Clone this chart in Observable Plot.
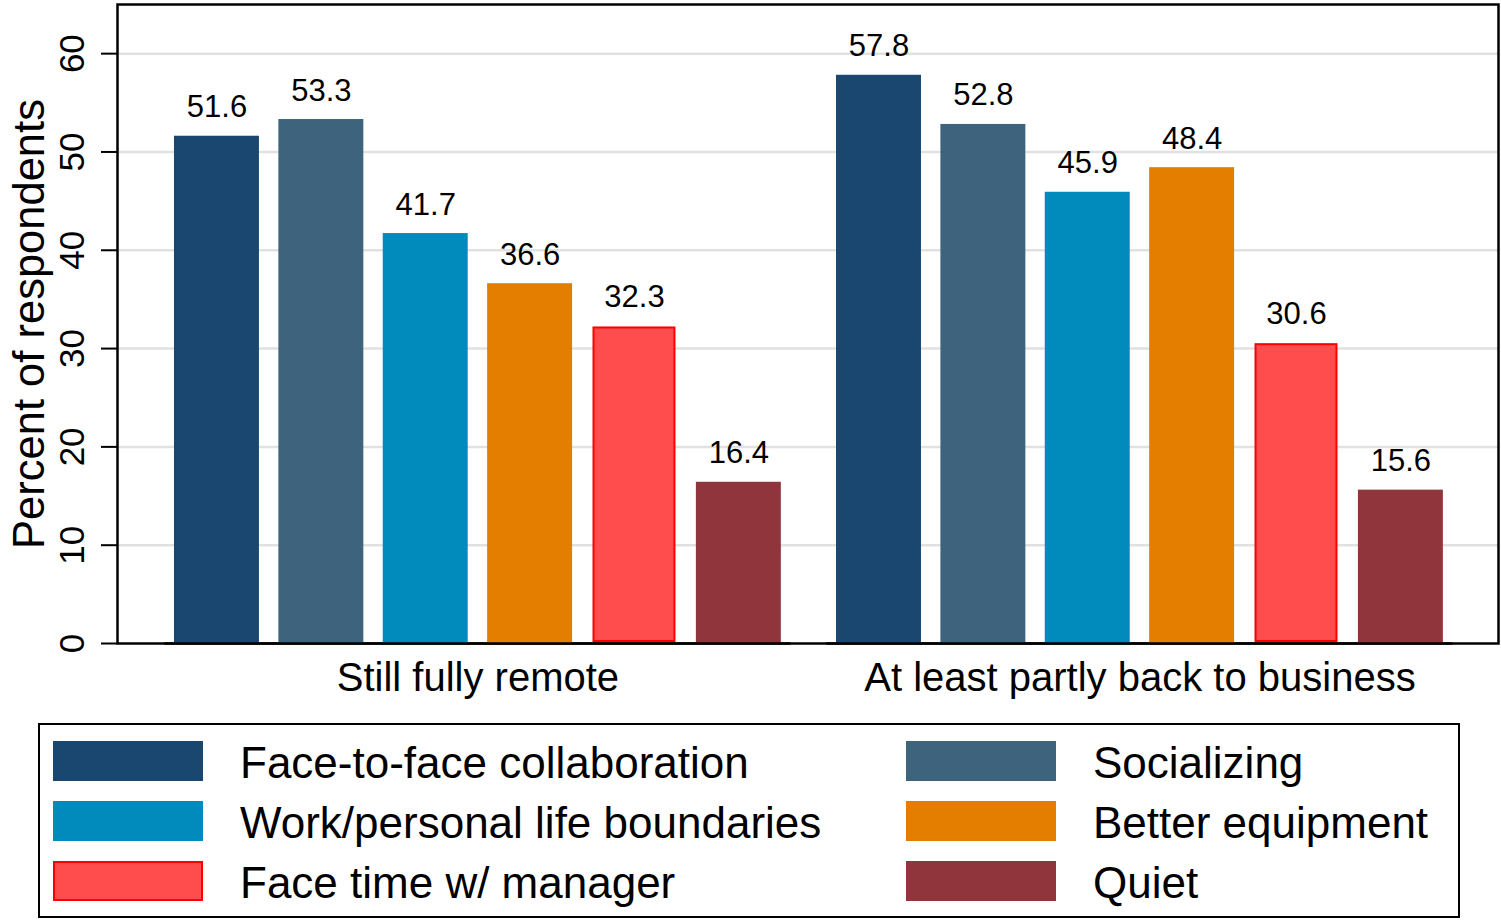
<!DOCTYPE html>
<html><head><meta charset="utf-8">
<script src="https://cdn.jsdelivr.net/npm/d3@7"></script>
<script src="https://cdn.jsdelivr.net/npm/@observablehq/plot@0.6"></script>
<style>
body{margin:0;background:#fff;font-family:"Liberation Sans",Arial,Helvetica,sans-serif;}
#wrap{position:relative;width:1501px;height:920px;overflow:hidden;}
#chart{position:relative;width:1501px;height:710px;}
#chart svg{position:absolute;left:0;top:0;}
#legend{position:absolute;left:38px;top:723px;width:1418px;height:191px;border:2px solid #000;}
.item{position:absolute;display:flex;align-items:center;height:40px;font-size:44px;color:#000;white-space:nowrap;}
.sw{width:150px;height:40px;box-sizing:border-box;flex:none;}
.lab{margin-left:37px;position:relative;top:2px;}
</style></head><body><div id="wrap"><div id="chart"></div><div id="legend"></div></div>
<script>
const groups = ["Still fully remote", "At least partly back to business"];
const categories = ["Face-to-face collaboration", "Socializing", "Work/personal life boundaries", "Better equipment", "Face time w/ manager", "Quiet"];
const remoteValues = [51.6, 53.3, 41.7, 36.6, 32.3, 16.4];
const backValues = [57.8, 52.8, 45.9, 48.4, 30.6, 15.6];
const colors = ["#1a476f", "#3e647d", "#008bbc", "#e37e00", "#ff4d4d", "#90353b"];
const yTicks = [0, 10, 20, 30, 40, 50, 60];
const yLabel = "Percent of respondents";

const data = [
  ...categories.map((c, i) => ({group: groups[0], cat: c, value: remoteValues[i]})),
  ...categories.map((c, i) => ({group: groups[1], cat: c, value: backValues[i]}))
];
const redCat = categories[4];
const FONT = '"Liberation Sans", Arial, Helvetica, sans-serif';

const dims = {width: 1501, height: 710, marginLeft: 117, marginRight: 3, marginTop: 4, marginBottom: 67};
const yScale = {domain: [0, 65], axis: null, label: null};

// Background layer: grid, axis, frame (whole plot area)
const back = Plot.plot({
  ...dims,
  style: {fontFamily: FONT, background: "white", overflow: "visible", color: "black"},
  y: yScale,
  marks: [
    Plot.ruleY(yTicks.filter(d => d > 0), {y: d => d, stroke: "#e1e1e1", strokeWidth: 2.5}),
    Plot.axisY({ticks: yTicks, tickSize: 16, tickFormat: () => "", label: null, stroke: "black", strokeWidth: 2}),
    Plot.text(yTicks, {y: d => d, text: d => String(d), frameAnchor: "left", dx: -34, rotate: -90, textAnchor: "middle", lineAnchor: "bottom", fontSize: 35, fill: "black"}),
    Plot.text([yLabel], {text: d => d, frameAnchor: "left", dx: -74, rotate: -90, textAnchor: "middle", lineAnchor: "bottom", fontSize: 43.5, fill: "black"}),
    Plot.frame({stroke: "black", strokeWidth: 2.5})
  ]
});

// Foreground layer: grouped bars (faceted by group)
const front = Plot.plot({
  ...dims,
  style: {fontFamily: FONT, background: "transparent", overflow: "visible", color: "black"},
  fx: {domain: groups, paddingInner: 0.054, paddingOuter: 0.07, align: 0.51, round: false, axis: null, label: null},
  x: {domain: categories, paddingInner: 0.186, paddingOuter: 0.093, round: false, axis: null, label: null},
  y: yScale,
  color: {domain: categories, range: colors},
  marks: [
    Plot.barY(data.filter(d => d.cat !== redCat), {fx: "group", x: "cat", y: "value", fill: "cat"}),
    Plot.barY(data.filter(d => d.cat === redCat), {fx: "group", x: "cat", y: "value", fill: "cat", stroke: "red", strokeWidth: 2, inset: 2}),
    Plot.text(data, {fx: "group", x: "cat", y: "value", text: d => d.value.toFixed(1), dy: -19, lineAnchor: "bottom", fontSize: 31, fill: "black"}),
    Plot.text(groups, {fx: d => d, text: d => d, frameAnchor: "bottom", dy: 19, lineAnchor: "top", fontSize: 40, fill: "black"}),
    Plot.ruleY([0], {stroke: "black", strokeWidth: 2.5})
  ]
});
const chartDiv = document.getElementById("chart");
chartDiv.appendChild(back);
chartDiv.appendChild(front);

// Legend (HTML, below the SVG)
const legend = document.getElementById("legend");
categories.forEach((c, i) => {
  const col = i % 2, row = Math.floor(i / 2);
  const item = document.createElement("div");
  item.className = "item";
  item.style.left = (col === 0 ? 13 : 866) + "px";
  item.style.top = (16 + row * 60) + "px";
  const sw = document.createElement("div");
  sw.className = "sw";
  sw.style.background = colors[i];
  if (c === redCat) sw.style.border = "2px solid red";
  const lab = document.createElement("span");
  lab.className = "lab";
  lab.textContent = c;
  item.appendChild(sw);
  item.appendChild(lab);
  legend.appendChild(item);
});
</script></body></html>
